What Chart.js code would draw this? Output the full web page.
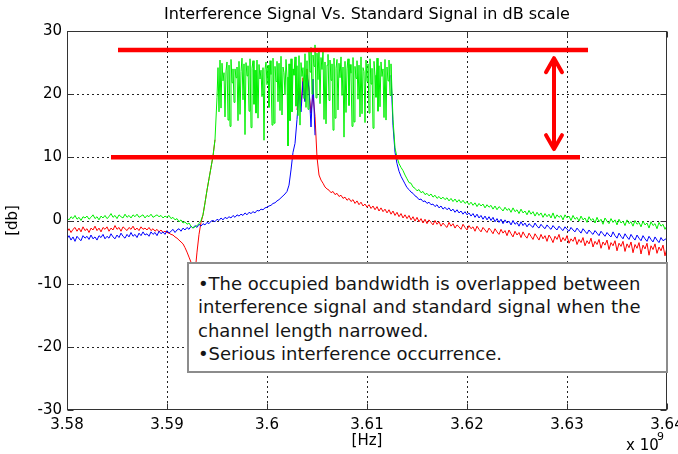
<!DOCTYPE html>
<html>
<head>
<meta charset="utf-8">
<script src="https://cdn.jsdelivr.net/npm/chart.js@4.4.1/dist/chart.umd.min.js"></script>
<style>
  html, body { margin: 0; padding: 0; background: #fff; }
  #wrap { position: relative; width: 678px; height: 454px; overflow: hidden; }
  #plot { position: absolute; left: 0; top: 0; }
  #note {
    position: absolute; left: 187px; top: 262px; width: 481px; height: 111px;
    box-sizing: border-box; border: 2px solid #8c8c8c; background: #fff;
    padding: 8px 0 0 9px; font-family: 'DejaVu Sans', sans-serif; font-size: 18px;
    line-height: 23.3px; color: #151515; white-space: nowrap;
  }
</style>
</head>
<body>
<div id="wrap">
  <canvas id="plot" width="678" height="454"></canvas>
  <div id="note">
    <div>•The occupied bandwidth is overlapped between</div>
    <div>interference signal and standard signal when the</div>
    <div>channel length narrowed.</div>
    <div>•Serious interference occurrence.</div>
  </div>
</div>
<script>
// Sweep grid: 3.58 GHz to 3.64 GHz in 0.2 MHz steps (values in units of 1e9 Hz)
const FREQ_START = 3.58;
const FREQ_STEP = 0.0002;
const SAMPLE_COUNT = 301;
// The occupied interference band is sampled finer: 3.5950 .. 3.6124 in 0.1 MHz steps
const BAND_START = 3.595;
const BAND_STEP = 0.0001;

const xTicks = [3.58, 3.59, 3.60, 3.61, 3.62, 3.63, 3.64];
const yTicks = [-30, -20, -10, 0, 10, 20, 30];

// Interference signal level [dB] (green) outside the occupied band
const interferenceDb = [
  0.4, 0.1, 0.6, 0.3, 0.8, 0.2, 0.5, 0.0, 0.6, 0.4,
  0.7, 0.2, 0.5, 0.9, 0.3, 0.6, 0.1, 0.7, 0.4, 0.8,
  0.3, 0.6, 1.1, 0.5, 0.8, 0.3, 0.9, 0.6, 0.4, 1.0,
  0.5, 0.8, 0.4, 0.9, 0.6, 1.0, 0.5, 0.7, 0.9, 0.4,
  0.8, 0.6, 1.0, 0.5, 0.7, 0.9, 0.6, 0.8, 0.4, 0.7,
  0.5, 0.8, 0.3, 0.5, 0.1, 0.3, -0.2, 0.1, -0.4, -0.2,
  -0.6, -0.4, -0.9, -1.2, -1.0, -0.8, -0.5, 0.0, 0.9, 2.8,
  4.8, 6.6, 8.4, 10.2, 12.8, 19.5, null, null, null, null,
  null, null, null, null, null, null, null, null, null, null,
  null, null, null, null, null, null, null, null, null, null,
  null, null, null, null, null, null, null, null, null, null,
  null, null, null, null, null, null, null, null, null, null,
  null, null, null, null, null, null, null, null, null, null,
  null, null, null, null, null, null, null, null, null, null,
  null, null, null, null, null, null, null, null, null, null,
  null, null, null, null, null, null, null, null, null, null,
  null, null, 24.8, 16.0, 11.5, 10.0, 9.0, 8.4, 7.9, 7.2,
  6.6, 6.0, 5.9, 5.3, 5.1, 4.7, 4.9, 4.4, 4.6, 4.1,
  4.3, 3.9, 4.2, 3.7, 4.0, 3.5, 3.8, 3.4, 3.7, 3.3,
  3.6, 3.1, 3.5, 3.0, 3.4, 2.9, 3.3, 2.8, 3.2, 2.7,
  3.0, 2.5, 2.9, 2.4, 2.8, 2.2, 2.7, 2.3, 2.6, 2.0,
  2.5, 2.1, 2.4, 1.8, 2.3, 1.7, 2.2, 1.9, 1.5, 2.1,
  1.6, 1.9, 1.3, 2.0, 1.4, 1.7, 1.1, 1.8, 1.2, 1.5,
  0.9, 1.6, 1.0, 1.4, 0.7, 1.3, 0.8, 1.2, 0.5, 1.1,
  0.6, 1.0, 0.4, 1.2, 0.3, 0.9, 0.5, 0.8, 0.1, 0.9,
  0.4, 0.7, 0.0, 0.8, 0.2, 0.5, -0.1, 0.7, 0.1, 0.4,
  -0.3, 0.6, 0.0, 0.3, -0.4, 0.5, -0.2, 0.2, -0.6, 0.4,
  -0.1, -0.5, 0.3, -0.3, 0.1, -0.7, 0.2, -0.4, -0.1, -0.8,
  0.1, -0.5, -0.2, -0.9, 0.0, -0.6, -0.3, -1.0, -0.1, -0.7,
  -0.4, -1.2, -0.2, -0.8, -0.5, -1.3, -0.3, -0.9, -0.6, -1.4,
  -0.8
];

// Interference signal level [dB] (green) inside the occupied band
const interferenceBandDb = [
  19.5, 24.2, 17.2, 25.4, 17.8, 24.9, 22.1, 23.4, 16.4, 23.7,
  25.1, 15.9, 24.6, 14.9, 25.5, 21.8, 24.0, 18.7, 24.0, 22.6,
  24.3, 15.8, 25.2, 16.8, 23.6, 25.7, 19.1, 24.8, 13.6, 25.0,
  22.9, 24.5, 17.3, 25.6, 14.7, 24.1, 25.3, 18.4, 23.8, 17.0,
  25.4, 16.2, 24.7, 22.4, 23.8, 19.6, 24.2, 12.7, 23.9, 25.1,
  21.5, 24.6, 17.9, 25.3, 23.1, 15.1, 25.7, 15.4, 24.4, 22.0,
  25.2, 18.8, 24.9, 17.4, 26.0, 16.7, 24.3, 23.4, 19.9, 25.5,
  22.7, 11.8, 24.8, 15.8, 25.6, 17.2, 24.0, 23.0, 25.9, 18.1,
  24.5, 16.6, 26.1, 15.1, 25.0, 22.8, 24.2, 19.3, 26.4, 17.9,
  25.3, 17.6, 26.8, 23.5, 27.4, 20.0, 26.2, 24.4, 27.8, 19.4,
  26.5, 22.3, 27.2, 18.5, 25.8, 23.9, 26.9, 16.0, 25.1, 15.3,
  24.6, 26.3, 19.0, 25.4, 22.2, 24.8, 14.3, 25.7, 16.2, 24.1,
  25.5, 17.5, 24.9, 22.6, 25.9, 19.8, 24.3, 13.2, 25.2, 17.1,
  24.0, 25.6, 18.2, 24.7, 23.3, 14.9, 25.8, 15.6, 24.4, 22.5,
  25.3, 19.2, 24.6, 16.4, 25.9, 16.9, 24.2, 23.6, 15.5, 25.4,
  22.0, 24.8, 17.0, 25.6, 21.6, 24.1, 14.6, 25.2, 23.0, 19.5,
  25.7, 17.3, 24.5, 18.0, 25.1, 22.8, 24.0, 16.3, 25.5, 15.9,
  24.3, 22.1, 25.4, 19.8, 24.8
];

// Standard signal level [dB] (blue); null where it lies under the interference band
const standardDb = [
  -2.9, -2.4, -3.1, -2.6, -3.3, -2.5, -2.9, -3.2, -2.4, -2.8,
  -2.5, -3.0, -2.3, -2.9, -2.6, -3.1, -2.4, -2.7, -2.2, -2.9,
  -2.5, -2.8, -2.1, -2.6, -2.9, -2.3, -2.7, -2.0, -2.5, -2.8,
  -2.2, -2.6, -1.9, -2.5, -2.2, -2.7, -2.0, -2.4, -1.8, -2.3,
  -2.1, -2.5, -1.8, -2.2, -1.9, -2.4, -1.7, -2.1, -1.8, -2.2,
  -1.6, -2.0, -1.7, -1.4, -1.9, -1.5, -1.3, -1.7, -1.2, -1.5,
  -1.1, -1.4, -0.9, -1.2, -0.8, -1.1, -0.6, -0.9, -0.5, -0.7,
  -0.3, -0.5, -0.1, 0.0, -0.2, 0.2, 0.0, 0.4, 0.1, 0.5,
  0.3, 0.6, 0.4, 0.8, 0.5, 0.9, 0.7, 1.0, 0.8, 1.2,
  0.9, 1.3, 1.1, 1.4, 1.2, 1.6, 1.5, 1.8, 1.7, 2.0,
  2.1, 2.3, 2.4, 2.7, 2.8, 3.1, 3.3, 3.6, 3.9, 4.2,
  4.6, 5.6, 8.0, 10.8, 12.2, 16.0, 20.5, 17.2, 22.0, 18.8,
  23.0, 21.0, 14.8, 22.4, 13.5, null, null, null, null, null,
  null, null, null, null, null, null, null, null, null, null,
  null, null, null, null, null, null, null, null, null, null,
  null, null, null, null, null, null, null, null, null, null,
  null, null, 23.0, 15.0, 10.8, 9.0, 7.8, 7.0, 6.4, 5.8,
  5.2, 4.9, 4.5, 4.3, 3.9, 3.7, 3.3, 3.4, 3.0, 3.1,
  2.7, 2.9, 2.5, 2.6, 2.2, 2.5, 2.0, 2.3, 1.8, 2.1,
  1.7, 2.0, 1.5, 1.8, 1.3, 1.7, 1.2, 1.5, 1.0, 1.4,
  0.9, 1.2, 0.7, 1.1, 0.5, 1.0, 0.4, 0.8, 0.2, 0.7,
  0.1, 0.6, 0.0, 0.5, -0.2, 0.3, -0.3, 0.2, -0.5, 0.1,
  -0.4, -0.1, -0.7, 0.0, -0.6, -0.3, -0.9, -0.2, -0.8, -0.4,
  -1.0, -0.5, -0.8, -1.1, -0.4, -0.9, -1.2, -0.6, -1.0, -1.3,
  -0.7, -1.1, -1.4, -0.8, -1.2, -1.5, -0.9, -1.3, -1.6, -1.0,
  -1.4, -1.7, -1.1, -1.5, -1.8, -1.2, -1.6, -2.0, -1.3, -1.7,
  -2.1, -1.5, -1.9, -2.2, -1.6, -2.0, -2.4, -1.7, -2.1, -2.5,
  -1.9, -2.3, -2.6, -1.8, -2.4, -2.8, -2.0, -2.5, -2.9, -2.1,
  -2.6, -3.0, -2.2, -2.7, -3.1, -2.3, -2.8, -3.2, -2.4, -2.9,
  -3.3, -2.5, -3.0, -3.4, -2.6, -3.1, -3.5, -2.7, -3.2, -3.0,
  -2.8
];

// Narrowed-channel signal level [dB] (red); null where it lies under the interference band
const narrowedDb = [
  -1.8, -1.3, -1.9, -1.4, -1.1, -1.7, -1.2, -1.8, -1.0, -1.6,
  -1.3, -1.9, -1.2, -1.5, -0.9, -1.6, -1.2, -1.8, -1.1, -1.4,
  -1.0, -1.7, -1.2, -1.5, -0.8, -1.4, -1.1, -1.7, -1.0, -1.3,
  -1.6, -1.1, -1.4, -0.9, -1.5, -1.2, -1.6, -1.0, -1.4, -1.2,
  -1.5, -1.1, -1.6, -1.3, -1.7, -1.4, -1.8, -1.5, -1.9, -1.7,
  -1.9, -2.0, -2.2, -2.3, -2.6, -2.8, -3.1, -3.4, -3.7, -4.3,
  -5.0, -5.8, -6.6, -7.6, -8.3, -5.0, -2.2, -0.3, 0.9, 2.8,
  4.8, 6.6, 8.4, 10.2, 12.8, null, null, null, null, null,
  null, null, null, null, null, null, null, null, null, null,
  null, null, null, null, null, null, null, null, null, null,
  null, null, null, null, null, null, null, null, null, null,
  null, null, null, null, null, 17.5, 21.0, 18.2, 22.6, 19.0,
  24.0, 20.5, 17.0, 20.0, 16.5, 10.0, 7.2, 6.4, 5.9, 5.3,
  5.0, 4.8, 4.4, 4.6, 4.1, 4.3, 3.8, 4.0, 3.5, 3.7,
  3.2, 3.5, 3.0, 3.3, 2.7, 3.1, 2.5, 2.9, 2.3, 2.6,
  2.1, 2.5, 1.9, 2.3, 1.7, 2.2, 1.5, 2.0, 1.4, 1.8,
  1.2, 1.7, 1.0, 1.5, 0.8, 1.3, 0.6, 1.1, 0.4, 0.9,
  0.3, 0.8, 0.1, 0.6, -0.1, 0.5, -0.2, 0.3, -0.4, 0.2,
  -0.5, 0.1, -0.3, -0.7, 0.0, -0.6, -0.2, -0.9, -0.4, -0.8,
  -1.1, -0.3, -0.9, -0.5, -1.2, -0.7, -1.0, -1.4, -0.6, -1.1,
  -1.5, -0.8, -1.3, -1.0, -1.7, -0.9, -1.4, -1.8, -1.1, -1.5,
  -1.9, -1.2, -1.6, -2.1, -1.3, -1.8, -2.2, -1.4, -2.0, -1.6,
  -2.4, -1.5, -2.1, -2.6, -1.7, -2.3, -1.9, -2.7, -1.8, -2.4,
  -2.8, -2.0, -2.5, -3.0, -2.1, -2.6, -3.1, -2.2, -2.9, -2.4,
  -3.3, -2.3, -2.8, -3.5, -2.5, -3.0, -2.2, -3.4, -2.7, -3.2,
  -2.4, -3.6, -2.9, -3.3, -2.6, -3.8, -3.0, -3.5, -2.7, -4.0,
  -3.2, -3.7, -2.8, -4.2, -3.3, -3.8, -3.0, -4.4, -3.4, -3.9,
  -3.1, -4.6, -3.5, -4.0, -3.2, -4.8, -3.6, -4.1, -3.3, -4.9,
  -3.7, -4.3, -3.4, -5.1, -3.8, -4.4, -3.5, -5.3, -3.9, -4.5,
  -3.6, -5.5, -4.0, -4.6, -3.7, -5.2, -4.2, -4.8, -3.9, -5.6,
  -4.3
];

// Occupied-bandwidth markers: level [dB] and frequency span of each bar
const markerLevels = [27, 10];
const markerSpans = [[3.5851, 3.6321], [3.5844, 3.6313]];
// Double-headed arrow between the two marker levels
const arrowFreq = 3.6287;
const arrowRange = [25.7, 11.3];

const freqGHz = Array.from({ length: SAMPLE_COUNT }, (_, i) => FREQ_START + i * FREQ_STEP);
const bandFreqGHz = interferenceBandDb.map((_, k) => BAND_START + k * BAND_STEP);
const toPoints = (vals, freqs) => vals.map((v, i) => ({ x: freqs[i], y: v }));

const FONT = "'DejaVu Sans', sans-serif";

const lineStyle = (color, width) => ({
  borderColor: color, backgroundColor: color, borderWidth: width,
  pointRadius: 0, tension: 0, fill: false
});

const datasets = [
  ...markerLevels.map((lvl, k) => ({
    data: markerSpans[k].map(f => ({ x: f, y: lvl })),
    ...lineStyle('#ff0000', 4.5), borderCapStyle: 'butt'
  })),
  { data: toPoints(interferenceDb, freqGHz), ...lineStyle('#00f000', 1) },
  { data: toPoints(interferenceBandDb, bandFreqGHz), ...lineStyle('#00f000', 1) },
  { data: toPoints(standardDb, freqGHz), ...lineStyle('#0000ff', 1) },
  { data: toPoints(narrowedDb, freqGHz), ...lineStyle('#ff0000', 1) }
];

const frame = {
  id: 'frame',
  beforeDatasetsDraw(chart) {
    const { ctx, chartArea: a, scales: { x, y } } = chart;
    ctx.save();
    ctx.strokeStyle = '#222';
    ctx.lineWidth = 1;
    ctx.setLineDash([2, 3]);
    xTicks.slice(1, -1).forEach(v => {
      const px = Math.round(x.getPixelForValue(v)) + 0.5;
      ctx.beginPath(); ctx.moveTo(px, a.top); ctx.lineTo(px, a.bottom); ctx.stroke();
    });
    yTicks.slice(1, -1).forEach(v => {
      const py = Math.round(y.getPixelForValue(v)) + 0.5;
      ctx.beginPath(); ctx.moveTo(a.left, py); ctx.lineTo(a.right, py); ctx.stroke();
    });
    ctx.restore();
  },
  afterDatasetsDraw(chart) {
    const { ctx, chartArea: a, scales: { x, y } } = chart;
    ctx.save();
    ctx.strokeStyle = '#333';
    ctx.lineWidth = 1;
    const L = Math.round(a.left) + 0.5, R = Math.round(a.right) - 0.5;
    const T = Math.round(a.top) + 0.5, B = Math.round(a.bottom) - 0.5;
    ctx.strokeRect(L, T, R - L, B - T);
    const tick = 6;
    ctx.beginPath();
    xTicks.forEach(v => {
      const px = Math.round(x.getPixelForValue(v)) + 0.5;
      ctx.moveTo(px, B); ctx.lineTo(px, B - tick);
      ctx.moveTo(px, T); ctx.lineTo(px, T + tick);
    });
    yTicks.forEach(v => {
      const py = Math.round(y.getPixelForValue(v)) + 0.5;
      ctx.moveTo(L, py); ctx.lineTo(L + tick, py);
      ctx.moveTo(R, py); ctx.lineTo(R - tick, py);
    });
    ctx.stroke();

    // double-headed arrow
    const ax = x.getPixelForValue(arrowFreq);
    const y1 = y.getPixelForValue(arrowRange[0]);
    const y2 = y.getPixelForValue(arrowRange[1]);
    ctx.strokeStyle = '#ff0000';
    ctx.lineWidth = 4;
    ctx.lineCap = 'round';
    ctx.lineJoin = 'round';
    ctx.beginPath();
    ctx.moveTo(ax, y1 + 2); ctx.lineTo(ax, y2 - 2);
    ctx.moveTo(ax - 8, y1 + 14); ctx.lineTo(ax, y1); ctx.lineTo(ax + 8, y1 + 14);
    ctx.moveTo(ax - 8, y2 - 14); ctx.lineTo(ax, y2); ctx.lineTo(ax + 8, y2 - 14);
    ctx.stroke();
    ctx.restore();
  },
  afterDraw(chart) {
    const { ctx, chartArea: a } = chart;
    ctx.save();
    ctx.fillStyle = '#000';
    ctx.textAlign = 'center';
    ctx.textBaseline = 'middle';
    ctx.font = '16px ' + FONT;
    ctx.fillText('Interference Signal Vs. Standard Signal in dB scale', (a.left + a.right) / 2, 15);
    ctx.font = '15px ' + FONT;
    ctx.fillText('[Hz]', (a.left + a.right) / 2, 441);
    ctx.save();
    ctx.translate(13, (a.top + a.bottom) / 2);
    ctx.rotate(-Math.PI / 2);
    ctx.fillText('[db]', 0, 0);
    ctx.restore();
    ctx.textAlign = 'left';
    ctx.fillText('x 10', 626, 446);
    ctx.font = '11px ' + FONT;
    ctx.fillText('9', 657, 437);
    ctx.restore();
  }
};

new Chart(document.getElementById('plot'), {
  type: 'line',
  data: { datasets },
  options: {
    responsive: false,
    animation: false,
    devicePixelRatio: 1,
    events: [],
    layout: { padding: { top: 31, right: 11, left: 0, bottom: 0 } },
    plugins: { legend: { display: false }, tooltip: { enabled: false }, title: { display: false } },
    scales: {
      x: {
        type: 'linear', min: 3.58, max: 3.64,
        grid: { display: false, drawTicks: false },
        border: { display: false },
        afterBuildTicks: s => { s.ticks = xTicks.map(v => ({ value: v })); },
        afterFit: s => { s.height = 44; s.paddingLeft = 0; s.paddingRight = 0; },
        ticks: {
          autoSkip: false, maxRotation: 0, padding: 6, color: '#000',
          font: { family: FONT, size: 15 },
          callback: v => String(Number(v.toFixed(2)))
        }
      },
      y: {
        type: 'linear', min: -30, max: 30,
        grid: { display: false, drawTicks: false },
        border: { display: false },
        afterBuildTicks: s => { s.ticks = yTicks.map(v => ({ value: v })); },
        afterFit: s => { s.width = 67; s.paddingTop = 0; s.paddingBottom = 0; },
        ticks: {
          padding: 5, color: '#000',
          font: { family: FONT, size: 15 }
        }
      }
    }
  },
  plugins: [frame]
});
</script>
</body>
</html>
